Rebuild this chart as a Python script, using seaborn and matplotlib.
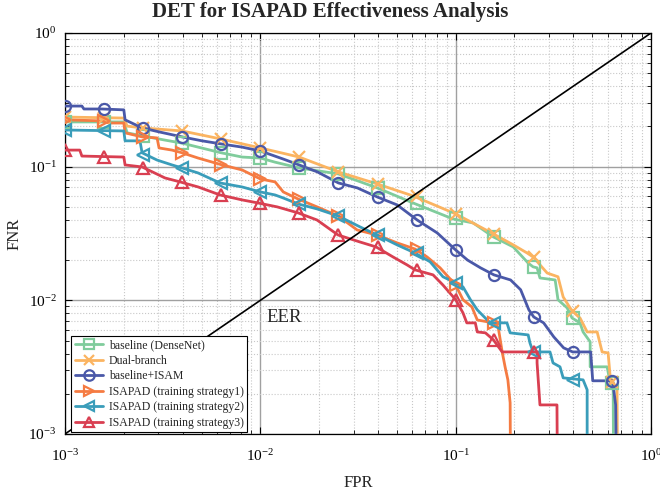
import numpy as np
import pandas as pd
import matplotlib
matplotlib.use("Agg")
import matplotlib.pyplot as plt
import seaborn as sns
from matplotlib.lines import Line2D
from matplotlib.ticker import LogLocator, NullFormatter

# ---------------- data ----------------
series_names = ["baseline (DenseNet)", "Dual-branch", "baseline+ISAM",
                "ISAPAD (training strategy1)", "ISAPAD (training strategy2)",
                "ISAPAD (training strategy3)"]

base_fpr = [0.001, 0.002, 0.00208, 0.00248, 0.00325, 0.00397, 0.0048, 0.00629, 0.00806, 0.01,
            0.0119, 0.0158, 0.0251, 0.0397, 0.0605, 0.097, 0.123, 0.156, 0.197, 0.235, 0.249,
            0.261, 0.270, 0.323, 0.334, 0.372, 0.394, 0.433, 0.449, 0.488, 0.488, 0.596, 0.618,
            0.640, 0.647]
base_fnr = [0.216, 0.216, 0.179, 0.170, 0.158, 0.150, 0.140, 0.127, 0.118, 0.116,
            0.108, 0.0978, 0.0882, 0.0693, 0.0535, 0.0406, 0.0379, 0.0298, 0.0251, 0.0190, 0.0178,
            0.0175, 0.0147, 0.0142, 0.0101, 0.00878, 0.00738, 0.00678, 0.00580, 0.00489, 0.00318,
            0.00318, 0.00241, 0.00214, 0.0001]

dual_fpr = [0.001, 0.002, 0.00208, 0.00248, 0.00397, 0.00629, 0.01, 0.0158, 0.0251, 0.0397,
            0.0605, 0.1, 0.156, 0.197, 0.232, 0.249, 0.294, 0.334, 0.355, 0.394, 0.433, 0.471,
            0.530, 0.562, 0.603, 0.618, 0.670, 0.679]
dual_fnr = [0.235, 0.231, 0.201, 0.195, 0.185, 0.161, 0.138, 0.118, 0.0913, 0.0742,
            0.0604, 0.0443, 0.0314, 0.0260, 0.0226, 0.0211, 0.0160, 0.0150, 0.0106, 0.00833,
            0.00738, 0.00580, 0.00580, 0.00411, 0.00404, 0.00267, 0.00214, 0.0001]

isam_fpr = [0.001, 0.00122, 0.00125, 0.00155, 0.002, 0.00203, 0.00248, 0.00303, 0.00397, 0.00503,
            0.00629, 0.00806, 0.01, 0.0131, 0.0158, 0.0196, 0.0251, 0.0314, 0.0397, 0.0502,
            0.0635, 0.0805, 0.1, 0.115, 0.134, 0.157, 0.191, 0.215, 0.237, 0.251, 0.282, 0.318,
            0.357, 0.397, 0.491, 0.503, 0.636, 0.659, 0.675]
isam_fnr = [0.284, 0.284, 0.270, 0.270, 0.266, 0.224, 0.195, 0.182, 0.167, 0.156,
            0.148, 0.140, 0.131, 0.114, 0.103, 0.0913, 0.0755, 0.0693, 0.0593, 0.0517,
            0.0399, 0.0319, 0.0238, 0.0200, 0.0175, 0.0155, 0.0142, 0.0120, 0.00848, 0.00751,
            0.00678, 0.00532, 0.00441, 0.00411, 0.00411, 0.00250, 0.00250, 0.00165, 0.0001]

s1_fpr = [0.001, 0.00155, 0.00168, 0.002, 0.00203, 0.00248, 0.00296, 0.00303, 0.00353, 0.00397,
          0.0048, 0.00637, 0.00806, 0.01, 0.0119, 0.0131, 0.0156, 0.0195, 0.025, 0.0313,
          0.0396, 0.0501, 0.0619, 0.0714, 0.0832, 0.1, 0.109, 0.121, 0.129, 0.156, 0.165,
          0.173, 0.179, 0.185, 0.190, 0.192]
s1_fnr = [0.224, 0.220, 0.212, 0.212, 0.179, 0.167, 0.164, 0.138, 0.133, 0.127,
          0.116, 0.103, 0.0945, 0.0809, 0.0769, 0.0647, 0.0573, 0.0500, 0.0428, 0.0336,
          0.0308, 0.0269, 0.0242, 0.0211, 0.0175, 0.0130, 0.0101, 0.00893, 0.00713, 0.00678,
          0.00632, 0.00411, 0.00318, 0.00254, 0.00171, 0.0001]

s2_fpr = [0.001, 0.002, 0.00203, 0.00242, 0.00248, 0.00296, 0.00353, 0.00397, 0.0048, 0.00622,
          0.00806, 0.01, 0.0119, 0.0131, 0.0156, 0.0195, 0.025, 0.0324, 0.0396, 0.0501,
          0.0619, 0.074, 0.0861, 0.1, 0.109, 0.119, 0.129, 0.150, 0.183, 0.190, 0.235, 0.240,
          0.249, 0.304, 0.315, 0.342, 0.355, 0.449, 0.471, 0.471]
s2_fnr = [0.188, 0.185, 0.156, 0.156, 0.127, 0.112, 0.103, 0.0978, 0.0897, 0.0755,
          0.0705, 0.0647, 0.0614, 0.0583, 0.0526, 0.0483, 0.0428, 0.0354, 0.0308, 0.0260,
          0.0226, 0.0194, 0.0150, 0.0135, 0.0126, 0.0101, 0.00848, 0.00678, 0.00678, 0.00571,
          0.00551, 0.00480, 0.00411, 0.00411, 0.00340, 0.00318, 0.00263, 0.00254, 0.00214, 0.0001]

s3_fpr = [0.001, 0.00119, 0.00122, 0.002, 0.00203, 0.00248, 0.00325, 0.00388, 0.0048, 0.00622,
          0.00806, 0.00973, 0.0122, 0.0156, 0.0195, 0.025, 0.0324, 0.0391, 0.0478, 0.0564,
          0.0619, 0.0766, 0.0861, 0.1, 0.109, 0.114, 0.126, 0.129, 0.142, 0.156, 0.173, 0.261,
          0.261, 0.270, 0.330, 0.334]
s3_fnr = [0.133, 0.133, 0.120, 0.118, 0.103, 0.0995, 0.0823, 0.0769, 0.0705, 0.0614,
          0.0564, 0.0535, 0.0500, 0.0451, 0.0399, 0.0308, 0.0273, 0.0251, 0.0211, 0.0184,
          0.0169, 0.0155, 0.0130, 0.0101, 0.00805, 0.00678, 0.00678, 0.00580, 0.00571, 0.00506,
          0.00411, 0.00411, 0.00340, 0.00165, 0.00165, 0.0001]

# marker positions (FPR shared), marker FNR per series (NaN = no marker)
marker_fpr = [0.001, 0.00158, 0.00251, 0.00398, 0.00631, 0.01, 0.0158, 0.0251, 0.0398,
              0.0631, 0.1, 0.158, 0.251, 0.398, 0.631]
base_mk = [0.216, 0.216, 0.170, 0.150, 0.127, 0.116, 0.0978, 0.0882, 0.0693, 0.0535,
           0.0413, 0.0298, 0.0178, 0.00738, 0.00241]
dual_mk = [0.235, 0.231, 0.195, 0.185, 0.161, 0.138, 0.118, 0.0913, 0.0742, 0.0600,
           0.0443, 0.0314, 0.0211, 0.00833, 0.00245]
isam_mk = [0.284, 0.270, 0.195, 0.167, 0.148, 0.131, 0.103, 0.0755, 0.0593, 0.0399,
           0.0238, 0.0155, 0.00751, 0.00411, 0.00250]
s1_mk = [0.224, 0.220, 0.167, 0.127, 0.103, 0.0809, 0.0573, 0.0428, 0.0308, 0.0242,
         0.0130, 0.00678, np.nan, np.nan, np.nan]
s2_mk = [0.188, 0.185, 0.122, 0.0978, 0.0755, 0.0647, 0.0526, 0.0428, 0.0308, 0.0226,
         0.0135, 0.00678, 0.00411, 0.00254, np.nan]
s3_mk = [0.133, 0.118, 0.097, 0.0769, 0.0614, 0.0535, 0.0451, 0.0308, 0.0251, 0.0169,
         0.0101, 0.00506, 0.00411, np.nan, np.nan]

diag = [0.001, 1.0]
x_ticks = [1e-3, 1e-2, 1e-1, 1e0]

# ---------------- style ----------------
colors = ["#80CC9C", "#FBB461", "#4A58A8", "#F57B42", "#3A9DBA", "#D93F51"]
markers = ["s", "x", "o", ">", "<", "^"]

sns.set_theme(style="ticks")
plt.rcParams["font.family"] = ["Liberation Serif", "DejaVu Serif"]
plt.rcParams["mathtext.fontset"] = "stix"

fig = plt.figure(figsize=(6.6, 4.93), dpi=100)
ax = fig.add_axes([0.0985, 0.1197, 0.8879, 0.8134])
ax.set_xscale("log")
ax.set_yscale("log")

paths = [(base_fpr, base_fnr), (dual_fpr, dual_fnr), (isam_fpr, isam_fnr),
         (s1_fpr, s1_fnr), (s2_fpr, s2_fnr), (s3_fpr, s3_fnr)]
mks = [base_mk, dual_mk, isam_mk, s1_mk, s2_mk, s3_mk]

frames = []
for name, (fx, fy) in zip(series_names, paths):
    frames.append(pd.DataFrame({"FPR": fx, "FNR": fy, "series": name}))
df = pd.concat(frames, ignore_index=True)

sns.lineplot(data=df, x="FPR", y="FNR", hue="series", hue_order=series_names,
             palette=colors, sort=False, estimator=None, linewidth=2.0,
             legend=False, ax=ax, zorder=3)

for mk, c, m in zip(mks, colors, markers):
    ax.plot(marker_fpr, mk, linestyle="none", marker=m, markersize=8,
            markerfacecolor="none", markeredgecolor=c, markeredgewidth=1.6, zorder=4)

sns.lineplot(x=diag, y=diag, color="black", linewidth=1.2, ax=ax, zorder=5)

ax.set_xlim(1e-3, 1)
ax.set_ylim(1e-3, 1)
ax.set_xticks(x_ticks)
ax.set_yticks(x_ticks)
ax.xaxis.set_minor_locator(LogLocator(base=10, subs=np.arange(2, 10)))
ax.yaxis.set_minor_locator(LogLocator(base=10, subs=np.arange(2, 10)))
ax.xaxis.set_minor_formatter(NullFormatter())
ax.yaxis.set_minor_formatter(NullFormatter())

ax.set_axisbelow(True)
ax.grid(which="major", color="#a0a0a0", linewidth=1.0, linestyle="-")
ax.grid(which="minor", color="#c8c8c8", linewidth=0.8, linestyle=":")

ax.tick_params(which="both", direction="in", top=True, right=True, colors="black",
               labelsize=11)
ax.tick_params(which="major", length=5, width=0.8)
ax.tick_params(which="minor", length=3, width=0.6)
ax.tick_params(axis="x", which="major", pad=10)
ax.tick_params(axis="y", which="major", pad=6)
for s in ax.spines.values():
    s.set_color("black")
    s.set_linewidth(0.9)

ax.text(0.0107, 0.0074, "EER", fontsize=13.5, ha="left", va="center", zorder=6)

ax.set_xlabel("FPR", fontsize=12, labelpad=8)
ax.set_ylabel("FNR", fontsize=12, labelpad=4)
fig.text(0.5, 1 - 12.5 / 493, "DET for ISAPAD Effectiveness Analysis", fontsize=15,
         fontweight="bold", ha="center", va="center")

handles = [Line2D([0], [0], color=c, linewidth=2.0, marker=m, markersize=7.5,
                  markerfacecolor="none", markeredgecolor=c, markeredgewidth=1.6)
           for c, m in zip(colors, markers)]
leg = ax.legend(handles, series_names, loc="lower left",
                bbox_to_anchor=(0.011, 0.004), borderaxespad=0.0,
                fontsize=8.5, frameon=True, fancybox=False, edgecolor="black",
                framealpha=1, handlelength=2.4, handleheight=0.7,
                labelspacing=0.3, borderpad=0.3, handletextpad=0.45)
leg.get_frame().set_linewidth(0.8)

fig.savefig("out.png", dpi=100)
